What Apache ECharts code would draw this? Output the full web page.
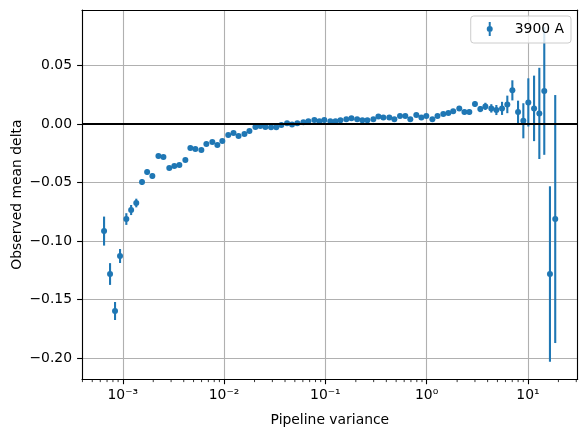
<!DOCTYPE html>
<html>
<head>
<meta charset="utf-8">
<script src="https://cdn.jsdelivr.net/npm/echarts@6/dist/echarts.min.js"></script>
<style>
  html, body { margin: 0; padding: 0; background: #fff; }
  #chart { width: 587px; height: 437px; }
</style>
</head>
<body>
<div id="chart"></div>
<script>
// pipeline variance (x), observed mean delta (y), error (half height of bar)
const xVals = [
  6.54e-4, 7.49e-4, 8.39e-4, 9.40e-4, 1.085e-3, 1.21e-3, 1.36e-3, 1.55e-3, 1.74e-3, 1.96e-3,
  2.25e-3, 2.52e-3, 2.88e-3, 3.23e-3, 3.62e-3, 4.15e-3, 4.65e-3, 5.21e-3, 5.97e-3, 6.69e-3,
  7.66e-3, 8.59e-3, 9.62e-3, 1.10e-2, 1.24e-2, 1.39e-2, 1.59e-2, 1.78e-2, 2.04e-2, 2.28e-2,
  2.56e-2, 2.91e-2, 3.28e-2, 3.68e-2, 4.19e-2, 4.69e-2, 5.29e-2, 6.07e-2, 6.80e-2, 7.79e-2,
  8.73e-2, 9.77e-2, 0.112, 0.126, 0.141, 0.161, 0.181, 0.206, 0.232, 0.260,
  0.298, 0.334, 0.374, 0.428, 0.480, 0.546, 0.616, 0.690, 0.791, 0.887,
  0.993, 1.14, 1.28, 1.46, 1.64, 1.83, 2.10, 2.36, 2.64, 3.00,
  3.39, 3.80, 4.35, 4.88, 5.55, 6.26, 7.02, 7.99, 9.01, 10.09,
  11.5, 12.96, 14.5, 16.5, 18.6
];
const yVals = [
  -0.0915, -0.1282, -0.1598, -0.1128, -0.0812, -0.0735, -0.0675, -0.0496, -0.0410, -0.0444,
  -0.0274, -0.0282, -0.0376, -0.0359, -0.0350, -0.0308, -0.0205, -0.0214, -0.0222, -0.0171,
  -0.0154, -0.0179, -0.0145, -0.0094, -0.0077, -0.0103, -0.0085, -0.0060, -0.0026, -0.0017,
  -0.0026, -0.0028, -0.0028, -0.0009, 0.0006, -0.0003, 0.0006, 0.0015, 0.0023, 0.0034,
  0.0023, 0.0034, 0.0023, 0.0023, 0.0032, 0.0040, 0.0049, 0.0040, 0.0032, 0.0032,
  0.0040, 0.0064, 0.0057, 0.0057, 0.0040, 0.0068, 0.0068, 0.0040, 0.0077, 0.0057,
  0.0068, 0.0040, 0.0068, 0.0085, 0.0094, 0.0109, 0.0134, 0.0103, 0.0103, 0.0171,
  0.0128, 0.0151, 0.0134, 0.0120, 0.0134, 0.0168, 0.0288, 0.0103, 0.0028, 0.0185,
  0.0134, 0.0091, 0.0282, -0.1282, -0.0812
];
const errVals = [
  0.0124, 0.0093, 0.0077, 0.0060, 0.0050, 0.0043, 0.0037, 0.0025, 0.0022, 0.0021,
  0.0019, 0.0018, 0.0017, 0.0016, 0.0015, 0.0015, 0.0014, 0.0014, 0.0013, 0.0013,
  0.0012, 0.0012, 0.0012, 0.0011, 0.0011, 0.0011, 0.0010, 0.0010, 0.0010, 0.0010,
  0.0010, 0.0010, 0.0010, 0.0010, 0.0010, 0.0010, 0.0010, 0.0010, 0.0010, 0.0010,
  0.0010, 0.0010, 0.0010, 0.0010, 0.0010, 0.0011, 0.0011, 0.0011, 0.0011, 0.0011,
  0.0012, 0.0012, 0.0012, 0.0012, 0.0013, 0.0013, 0.0013, 0.0014, 0.0014, 0.0014,
  0.0015, 0.0015, 0.0015, 0.0016, 0.0016, 0.0017, 0.0018, 0.0019, 0.0021, 0.0023,
  0.0026, 0.0031, 0.0036, 0.0043, 0.0056, 0.0075, 0.0086, 0.0097, 0.0150, 0.0206,
  0.0280, 0.0390, 0.0545, 0.0750, 0.1060
];
const seriesName = '3900 A';
const xMin = 3.96e-4, xMax = 31.0;
const yMin = -0.2182, yMax = 0.0975;
// log-axis minor ticks (2..9 x 10^k) inside the range
const minorTicks = [
  4e-4, 5e-4, 6e-4, 7e-4, 8e-4, 9e-4,
  2e-3, 3e-3, 4e-3, 5e-3, 6e-3, 7e-3, 8e-3, 9e-3,
  2e-2, 3e-2, 4e-2, 5e-2, 6e-2, 7e-2, 8e-2, 9e-2,
  0.2, 0.3, 0.4, 0.5, 0.6, 0.7, 0.8, 0.9,
  2, 3, 4, 5, 6, 7, 8, 9,
  20, 30
];

const blue = '#1f77b4';
const font = 'DejaVu Sans';
const fs = 13.9;
const sup = { '-': '\u207b', '0': '\u2070', '1': '\u00b9', '2': '\u00b2', '3': '\u00b3' };
const spine = { show: true, onZero: false, lineStyle: { color: '#000', width: 1.1 } };

const points = xVals.map((x, i) => [x, yVals[i]]);
const bars = xVals.map((x, i) => [x, yVals[i], errVals[i]]);

const chart = echarts.init(document.getElementById('chart'));
chart.setOption({
  animation: false,
  backgroundColor: '#fff',
  textStyle: { fontFamily: font },
  grid: {
    left: 82, right: 9.3, top: 10, bottom: 57.7,
    containLabel: false, outerBoundsMode: 'none'
  },
  legend: {
    right: 16, top: 16,
    data: [{ name: seriesName, icon: 'path://M20,0 L40,0 L40,140 L20,140 Z M0,70 A30,30 0 1,1 60,70 A30,30 0 1,1 0,70 Z' }],
    itemWidth: 6, itemHeight: 14,
    padding: [6, 7, 7, 16],
    backgroundColor: 'rgba(255,255,255,0.8)',
    borderColor: '#cccccc', borderWidth: 1, borderRadius: 3,
    textStyle: { fontFamily: font, fontSize: fs, color: '#000', padding: [0, 0, 0, 17] }
  },
  xAxis: [
    {
      type: 'log', logBase: 10, min: xMin, max: xMax, position: 'bottom',
      name: 'Pipeline variance', nameLocation: 'middle', nameGap: 34,
      nameMoveOverlap: false,
      nameTextStyle: { fontFamily: font, fontSize: fs, color: '#000' },
      axisLine: spine,
      axisTick: { show: true, length: 4.9, lineStyle: { color: '#000', width: 1.1 } },
      axisLabel: {
        fontFamily: font, fontSize: fs, color: '#000', margin: 9,
        showMinLabel: false, showMaxLabel: false,
        formatter: v => '10' + String(Math.round(Math.log10(v))).split('').map(c => sup[c]).join('')
      },
      splitLine: { show: true, lineStyle: { color: '#b0b0b0', width: 1.1 } },
      z: 1
    },
    {
      // top spine only
      type: 'log', logBase: 10, min: xMin, max: xMax, position: 'top',
      axisLine: spine, axisTick: { show: false }, axisLabel: { show: false },
      splitLine: { show: false }, z: 3
    }
  ],
  yAxis: [
    {
      type: 'value', min: yMin, max: yMax, position: 'left',
      name: 'Observed mean delta', nameLocation: 'middle', nameGap: 58,
      nameMoveOverlap: false,
      nameTextStyle: { fontFamily: font, fontSize: fs, color: '#000' },
      axisLine: spine,
      axisTick: { show: true, length: 4.9, lineStyle: { color: '#000', width: 1.1 } },
      axisLabel: {
        fontFamily: font, fontSize: fs, color: '#000', margin: 10,
        showMinLabel: false, showMaxLabel: false,
        formatter: v => (v < -1e-9 ? '\u2212' : '') + Math.abs(v).toFixed(2)
      },
      splitLine: { show: true, lineStyle: { color: '#b0b0b0', width: 1.1 } },
      z: 1
    },
    {
      // right spine only
      type: 'value', min: yMin, max: yMax, position: 'right',
      axisLine: spine, axisTick: { show: false }, axisLabel: { show: false },
      splitLine: { show: false }, z: 3
    }
  ],
  series: [
    {
      type: 'custom',
      name: 'errbar',
      data: bars,
      encode: { x: 0, y: 1 },
      z: 3,
      silent: true,
      renderItem: (params, api) => {
        const x = api.value(0), y = api.value(1), e = api.value(2);
        const lo = api.coord([x, y - e]);
        const hi = api.coord([x, y + e]);
        return {
          type: 'line',
          shape: { x1: lo[0], y1: lo[1], x2: hi[0], y2: hi[1] },
          style: { stroke: blue, lineWidth: 2.1 }
        };
      }
    },
    {
      type: 'scatter',
      name: seriesName,
      data: points,
      symbol: 'circle',
      symbolSize: 6,
      itemStyle: { color: blue, opacity: 1 },
      z: 4,
      markLine: {
        silent: true, symbol: 'none', animation: false,
        label: { show: false },
        lineStyle: { color: '#000', width: 2.1, type: 'solid' },
        data: [{ yAxis: 0 }]
      }
    },
    {
      type: 'custom',
      name: 'minorTicks',
      data: minorTicks.map(v => [v]),
      encode: { x: 0 },
      clip: false,
      silent: true,
      renderItem: (params, api) => {
        const p = api.coord([api.value(0), yMin]);
        return {
          type: 'line',
          shape: { x1: p[0], y1: p[1], x2: p[0], y2: p[1] + 2.8 },
          style: { stroke: '#000', lineWidth: 0.8 }
        };
      }
    }
  ]
});
</script>
</body>
</html>
